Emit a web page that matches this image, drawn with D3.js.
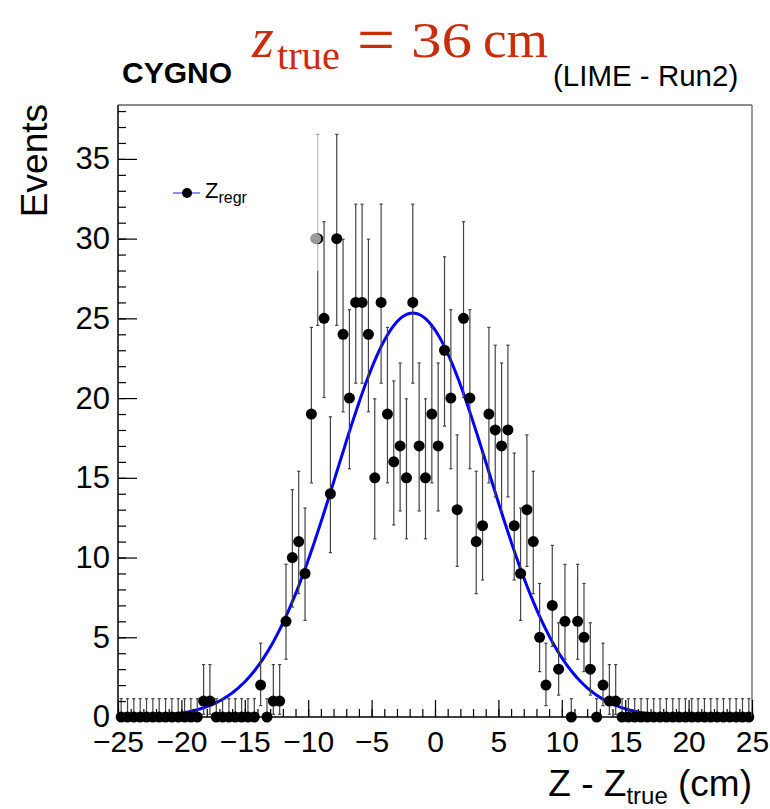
<!DOCTYPE html>
<html>
<head>
<meta charset="utf-8">
<script src="https://cdn.jsdelivr.net/npm/d3@7"></script>
<style>
  body { margin: 0; background: #fff; }
  svg { display: block; font-family: "Liberation Sans", Arial, Helvetica, sans-serif; }
</style>
</head>
<body>
<svg width="770" height="809"></svg>
<script>
// histogram: 100 bins of 0.5 cm from -25 to 25
var xRange = [-25, 25];
var binWidth = 0.5;
var counts = [
    0, 0, 0, 0, 0, 0, 0, 0, 0, 0, 0, 0, 0, 1, 1, 0, 0, 0, 0, 0,
    0, 0, 2, 0, 1, 1, 6, 10, 11, 9, 19, 30, 25, 14, 30, 24, 20, 26, 26, 24,
    15, 26, 19, 16, 17, 15, 26, 17, 15, 19, 17, 23, 20, 13, 25, 20, 11, 12, 19, 18,
    17, 18, 12, 9, 13, 11, 5, 2, 7, 3, 6, 0, 6, 5, 3, 0, 2, 1, 1, 0,
    0, 0, 0, 0, 0, 0, 0, 0, 0, 0, 0, 0, 0, 0, 0, 0, 0, 0, 0, 0
];
// gaussian fit: amplitude, mean, sigma
var fitParams = [25.33, -1.75, 6.0];
var xTicks = [-25, -20, -15, -10, -5, 0, 5, 10, 15, 20, 25];
var yTicks = [0, 5, 10, 15, 20, 25, 30, 35];
var ghostBin = 31;   // the grey duplicate point
var ghostSplit = 28; // where its error bar turns from light to dark

var svg = d3.select('svg');
var padL = 118, padR = 752, padT = 105, padB = 717;

var x = d3.scaleLinear().domain(xRange).range([padL, padR]);
var y = d3.scaleLinear().domain([0, 38.38]).range([padB, padT]);

function poissonErr(n) {
    if (n === 0) return [0, 1.148];
    var up = (n + 1) * Math.pow(1 - 1 / (9 * (n + 1)) + 1 / (3 * Math.sqrt(n + 1)), 3);
    var lo = n * Math.pow(1 - 1 / (9 * n) - 1 / (3 * Math.sqrt(n)), 3);
    return [lo, up];
}

var points = counts.map(function (c, i) {
    var e = poissonErr(c);
    return { i: i, x: xRange[0] + binWidth * (i + 0.5), n: c, lo: e[0], up: e[1] };
});

// fit curve
var curve = d3.range(0, 501).map(function (k) {
    var v = xRange[0] + k * 0.1;
    var t = (v - fitParams[1]) / fitParams[2];
    return [v, fitParams[0] * Math.exp(-0.5 * t * t)];
});
svg.append('path')
    .datum(curve)
    .attr('fill', 'none')
    .attr('stroke', '#0000ff')
    .attr('stroke-width', 3)
    .attr('d', d3.line().x(function (d) { return x(d[0]); }).y(function (d) { return y(d[1]); }));

// error bars
var bars = svg.append('g').attr('stroke-width', 1.2);
points.forEach(function (d) {
    var cx = x(d.x);
    if (d.i === ghostBin) {
        bars.append('line').attr('x1', cx).attr('x2', cx)
            .attr('y1', y(d.up)).attr('y2', y(ghostSplit)).attr('stroke', '#bbb');
        bars.append('line').attr('x1', cx).attr('x2', cx)
            .attr('y1', y(ghostSplit)).attr('y2', y(d.lo)).attr('stroke', '#555');
    } else {
        bars.append('line').attr('x1', cx).attr('x2', cx)
            .attr('y1', y(d.up)).attr('y2', y(d.lo)).attr('stroke', '#444');
    }
    var capColor = d.i === ghostBin ? '#999' : '#444';
    bars.append('line').attr('x1', cx - 1.6).attr('x2', cx + 1.6)
        .attr('y1', y(d.up)).attr('y2', y(d.up)).attr('stroke', capColor);
    if (d.n > 0) {
        bars.append('line').attr('x1', cx - 1.6).attr('x2', cx + 1.6)
            .attr('y1', y(d.lo)).attr('y2', y(d.lo)).attr('stroke', '#444');
    }
});

// markers
svg.append('g').selectAll('circle')
    .data(points)
    .enter()
    .append('circle')
    .attr('cx', function (d) { return x(d.x); })
    .attr('cy', function (d) { return y(d.n); })
    .attr('r', 5.5)
    .attr('fill', '#000');

var g = points[ghostBin];
svg.append('circle')
    .attr('cx', x(g.x) - 2)
    .attr('cy', y(g.n))
    .attr('r', 5.5)
    .attr('fill', '#999');

// frame
svg.append('line').attr('x1', padL).attr('x2', padR).attr('y1', padT).attr('y2', padT)
    .attr('stroke', '#666').attr('stroke-width', 1.3);
svg.append('line').attr('x1', padR).attr('x2', padR).attr('y1', padT).attr('y2', padB)
    .attr('stroke', '#666').attr('stroke-width', 1.3);

// axes
var fmt = function (d) { return d < 0 ? '\u2212' + Math.abs(d) : String(d); };

var xMinor = svg.append('g').attr('transform', 'translate(0,' + padB + ')')
    .call(d3.axisBottom(x).tickValues(d3.range(-25, 26, 1)).tickSize(-8).tickFormat(''));
var xMajor = svg.append('g').attr('transform', 'translate(0,' + padB + ')')
    .call(d3.axisBottom(x).tickValues(xTicks).tickSize(-17).tickPadding(14).tickFormat(fmt));

var yMinor = svg.append('g').attr('transform', 'translate(' + padL + ',0)')
    .call(d3.axisLeft(y).tickValues(d3.range(0, 39, 1)).tickSize(-8).tickFormat(''));
var yMajor = svg.append('g').attr('transform', 'translate(' + padL + ',0)')
    .call(d3.axisLeft(y).tickValues(yTicks).tickSize(-19).tickPadding(8).tickFormat(fmt));

[xMinor, xMajor, yMinor, yMajor].forEach(function (a) {
    a.select('.domain').remove();
    a.selectAll('.tick line').attr('stroke', '#000').attr('stroke-width', 1.2);
    a.attr('font-family', null);
});
xMajor.selectAll('text').attr('font-size', 30).attr('fill', '#000');
yMajor.selectAll('text').attr('font-size', 31).attr('fill', '#000');

svg.append('line').attr('x1', padL).attr('x2', padR).attr('y1', padB).attr('y2', padB)
    .attr('stroke', '#000').attr('stroke-width', 1.5);
svg.append('line').attr('x1', padL).attr('x2', padL).attr('y1', padT).attr('y2', padB)
    .attr('stroke', '#000').attr('stroke-width', 1.5);

// axis titles
svg.append('text')
    .attr('transform', 'translate(47,104) rotate(-90)')
    .attr('text-anchor', 'end')
    .attr('font-size', 37)
    .text('Events');

var xt = svg.append('text')
    .attr('x', 752).attr('y', 796)
    .attr('text-anchor', 'end')
    .attr('font-size', 37);
xt.append('tspan').text('Z - Z');
xt.append('tspan').attr('font-size', 24).attr('dy', 8).text('true');
xt.append('tspan').attr('dy', -8).text(' (cm)');

// header
svg.append('text')
    .attr('x', 122).attr('y', 83)
    .attr('font-size', 30).attr('font-weight', 'bold')
    .text('CYGNO');
svg.append('text')
    .attr('x', 553).attr('y', 86)
    .attr('font-size', 29.5)
    .text('(LIME - Run2)');

var red = '#cb2d0c';
var serif = '"Liberation Serif", "Times New Roman", serif';
svg.append('text').attr('x', 252).attr('y', 57)
    .attr('font-family', serif).attr('font-style', 'italic').attr('font-size', 56)
    .attr('fill', red).text('z');
svg.append('text').attr('x', 277).attr('y', 69)
    .attr('font-family', serif).attr('font-size', 41)
    .attr('textLength', 63).attr('lengthAdjust', 'spacingAndGlyphs')
    .attr('fill', red).text('true');
svg.append('text').attr('x', 357).attr('y', 62)
    .attr('font-family', serif).attr('font-size', 66)
    .attr('textLength', 38).attr('lengthAdjust', 'spacingAndGlyphs')
    .attr('fill', red).text('=');
svg.append('text').attr('x', 411).attr('y', 57)
    .attr('font-family', serif).attr('font-size', 50)
    .attr('textLength', 61).attr('lengthAdjust', 'spacingAndGlyphs')
    .attr('fill', red).text('36');
svg.append('text').attr('x', 483).attr('y', 57)
    .attr('font-family', serif).attr('font-size', 52)
    .attr('textLength', 65).attr('lengthAdjust', 'spacingAndGlyphs')
    .attr('fill', red).text('cm');

// legend
svg.append('line').attr('x1', 173).attr('x2', 200).attr('y1', 193).attr('y2', 193)
    .attr('stroke', '#4444ff').attr('stroke-width', 1.2);
svg.append('circle').attr('cx', 187).attr('cy', 193).attr('r', 5).attr('fill', '#000');
var lt = svg.append('text').attr('x', 205).attr('y', 198).attr('font-size', 22);
lt.append('tspan').text('Z');
lt.append('tspan').attr('font-size', 16).attr('dy', 5).text('regr');
</script>
</body>
</html>
